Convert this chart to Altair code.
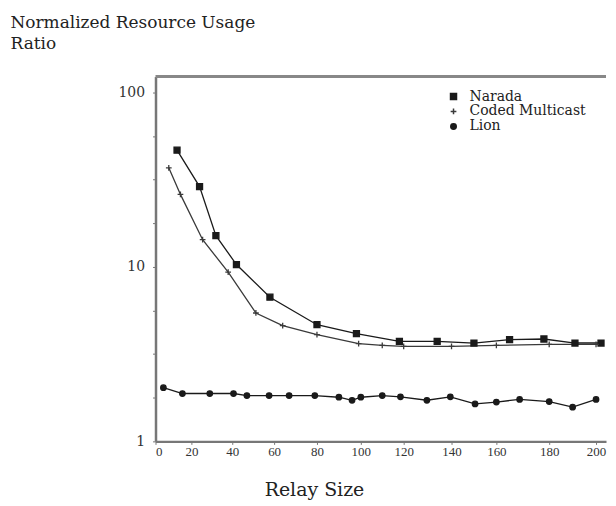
import altair as alt
import pandas as pd

# Narada
narada_x = [12, 24, 32, 42, 58, 80, 98, 118, 134, 150, 165, 178, 191, 203]
narada_y = [46.6, 28.8, 15.1, 10.3, 6.7, 4.66, 4.14, 3.74, 3.74, 3.66, 3.83, 3.86, 3.66, 3.66]
# Coded Multicast
coded_x = [7.4, 13.9, 25.5, 38, 51.3, 64, 80, 99, 110, 120, 140, 160, 180, 200]
coded_y = [36.9, 26.0, 14.3, 9.33, 5.44, 4.6, 4.09, 3.63, 3.55, 3.5, 3.5, 3.55, 3.6, 3.6]
# Lion
lion_x = [4.4, 15, 29, 40.6, 47, 57.6, 67, 79, 90, 96, 100, 110, 118.5, 129.7,
          139.5, 150.5, 160, 168.8, 180, 190, 200]
lion_y = [2.03, 1.88, 1.88, 1.88, 1.83, 1.83, 1.83, 1.83, 1.79, 1.72, 1.79, 1.83,
          1.80, 1.72, 1.80, 1.64, 1.68, 1.74, 1.69, 1.57, 1.74]

series = ["Narada", "Coded Multicast", "Lion"]
x_ticks = [0, 20, 40, 60, 80, 100, 120, 140, 160, 180, 200]
y_ticks = [1, 1.778, 3.162, 5.623, 10, 17.78, 31.62, 56.23, 100]

rows = []
for name, xs, ys in [("Narada", narada_x, narada_y),
                     ("Coded Multicast", coded_x, coded_y),
                     ("Lion", lion_x, lion_y)]:
    for xv, yv in zip(xs, ys):
        rows.append({"series": name, "relay": xv, "ratio": yv})
df = pd.DataFrame(rows)

W, H = 452, 366
ink = ["#1a1a1a", "#3a3a3a", "#1a1a1a"]

xscale = alt.Scale(domain=x_ticks + [206],
                   range=[0, 36, 77, 119, 162, 206, 249, 297, 342, 395, 442, 452])
yscale = alt.Scale(type="log", domain=[1, 123], nice=False)

color = alt.Color("series:N", scale=alt.Scale(domain=series, range=ink),
                  legend=alt.Legend(title=None, orient="none", legendX=292, legendY=13,
                                    labelFont="DejaVu Serif", labelFontSize=14,
                                    labelColor="#222", rowPadding=1, labelOffset=9,
                                    symbolSize=40, symbolStrokeWidth=1.5))
shape = alt.Shape("series:N", scale=alt.Scale(domain=series,
                                               range=["square", "M-1,0H1M0,-1V1", "circle"]),
                  legend=alt.Legend(title=None, orient="none", legendX=292, legendY=13))

xaxis = alt.Axis(values=x_ticks, title="Relay Size", grid=False,
                 labelFont="Liberation Serif", labelFontSize=13, labelColor="#333",
                 labelPadding=1, tickSize=3, tickColor="#777", domainColor="#777",
                 domainWidth=2.5, titleFont="DejaVu Serif", titleFontSize=19,
                 titleFontWeight="normal", titleColor="#222", titleX=159, titleY=39,
                 titleAlign="center", titleBaseline="top")
yaxis = alt.Axis(values=y_ticks, grid=False,
                 labelExpr="(datum.value == 1 || datum.value == 10 || datum.value == 100) ? format(datum.value, 'd') : ''",
                 labelFont="DejaVu Serif", labelFontSize=14, labelColor="#333",
                 labelPadding=8, tickSize=3, tickColor="#777", domainColor="#777",
                 domainWidth=2.5,
                 title=["Normalized Resource Usage", "Ratio"], titleAngle=0,
                 titleAlign="left", titleBaseline="top", titleX=-146, titleY=-62,
                 titleFont="DejaVu Serif", titleFontSize=17, titleFontWeight="normal",
                 titleColor="#222", titleLineHeight=21)

base = alt.Chart(df)
lines = base.mark_line(strokeWidth=1.3).encode(
    x=alt.X("relay:Q", scale=xscale, axis=xaxis),
    y=alt.Y("ratio:Q", scale=yscale, axis=yaxis),
    color=color,
    detail="series:N",
)
points = base.mark_point(filled=True, strokeWidth=1.3, opacity=1).encode(
    x=alt.X("relay:Q", scale=xscale),
    y=alt.Y("ratio:Q", scale=yscale),
    color=color,
    stroke=alt.Stroke("series:N", scale=alt.Scale(domain=series, range=ink), legend=None),
    shape=shape,
    size=alt.Size("series:N", scale=alt.Scale(domain=series, range=[36, 30, 16]), legend=None),
)
topline = alt.Chart(pd.DataFrame({"a": [0]})).mark_rule(color="#888", strokeWidth=3).encode(
    x=alt.value(0), x2=alt.value(W), y=alt.value(0))

chart = alt.layer(topline, lines, points).properties(
    width=W, height=H,
    padding={"left": 2, "top": 5, "right": 0, "bottom": 0},
    background="white",
).configure_view(stroke=None)

chart.save("out.html", embed_options={"renderer": "svg", "actions": False})
